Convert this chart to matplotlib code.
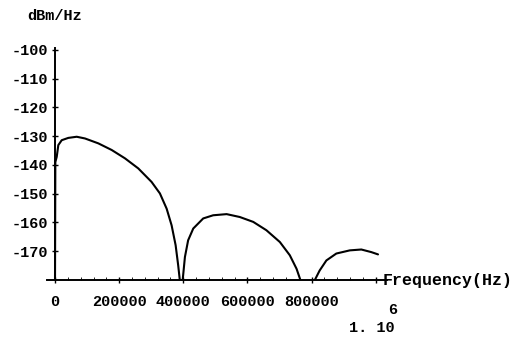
import numpy as np
import matplotlib.pyplot as plt
from matplotlib.ticker import MultipleLocator

# power spectral density, one list per lobe
lobe1_f = [0, 1000, 5300, 10300, 20900, 41400, 67600, 93500, 135000, 176600,
           218000, 259500, 301000, 327000, 348000, 363500, 376000, 384000, 389000]
lobe1_db = [-180, -139, -137.2, -133.1, -131.4, -130.6, -130.2, -130.8, -132.5, -134.8,
            -137.7, -141.2, -145.9, -149.9, -155.2, -161.0, -167.9, -174.9, -180]
lobe2_f = [398000, 405000, 415000, 431000, 462000, 493000, 535000, 576000, 618000,
           659000, 701000, 732000, 753000, 765000]
lobe2_db = [-180, -172, -166.2, -162.1, -158.6, -157.5, -157.1, -158.1, -159.8,
            -162.7, -166.8, -171.4, -176.1, -180]
lobe3_f = [810000, 825000, 846000, 877000, 919000, 955000, 986000, 1007000]
lobe3_db = [-180, -176.7, -173.2, -170.8, -169.7, -169.4, -170.3, -171.1]

xticks = [0, 200000, 400000, 600000, 800000]
yticks = [-100, -110, -120, -130, -140, -150, -160, -170]

W, H = 523, 341
font = dict(family='Liberation Mono', weight='bold', color='black')

fig = plt.figure(figsize=(W / 100, H / 100), dpi=100)
ax = fig.add_axes([47 / W, 1 - 280 / H, 340 / W, 233 / H])

for f, db in [(lobe1_f, lobe1_db), (lobe2_f, lobe2_db), (lobe3_f, lobe3_db)]:
    ax.plot(f, db, color='black', lw=1.5, solid_capstyle='round', solid_joinstyle='round')

ax.set_xlim(-25000, 1035000)
ax.set_ylim(-180, -99)

for s in ['top', 'right']:
    ax.spines[s].set_visible(False)
ax.spines['left'].set_position(('data', 0))
ax.spines['left'].set_bounds(-180, -99.5)
ax.spines['left'].set_linewidth(1.4)
ax.spines['bottom'].set_linewidth(1.4)

ax.set_xticks(xticks + [1000000])
ax.set_xticklabels([str(t) for t in xticks] + [''], fontsize=11, **font)
ax.set_yticks(yticks)
ax.set_yticklabels([str(t) for t in yticks], fontsize=11, **font)
ax.xaxis.set_minor_locator(MultipleLocator(40000))
ax.tick_params(axis='both', which='major', direction='inout', length=4, width=1)
ax.tick_params(axis='x', which='minor', direction='in', length=2, width=0.6)
ax.tick_params(axis='x', pad=9)
ax.tick_params(axis='y', pad=3)

fig.text(27 / W, 1 - 16 / H, 'dBm/Hz', fontsize=11, va='center', ha='left', **font)
fig.text(383 / W, 1 - 280 / H, 'Frequency(Hz)', fontsize=12, va='center', ha='left', **font)
fig.text(393 / W, 1 - 310 / H, '6', fontsize=11, va='center', ha='center', **font)
fig.text(372 / W, 1 - 328 / H, '1. 10', fontsize=11, va='center', ha='center', **font)

fig.savefig('out.png', dpi=100)
